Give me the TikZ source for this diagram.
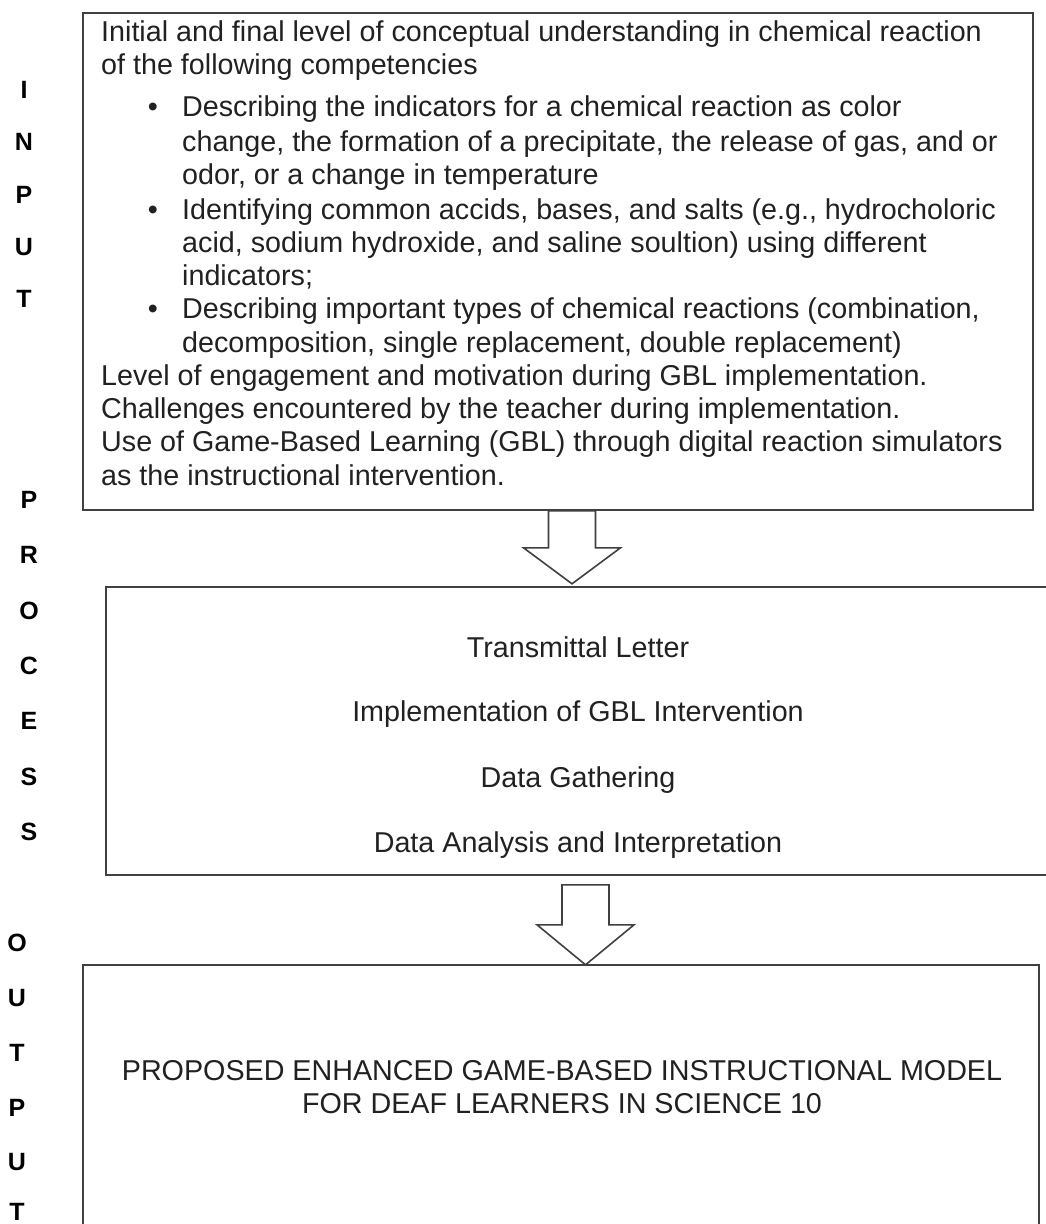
\documentclass[tikz,border=0pt]{standalone}
\usepackage{fontspec}
\setmainfont{Liberation Sans}
\usetikzlibrary{calc}
\definecolor{boxgray}{rgb}{0.25,0.25,0.25}
\definecolor{inkgray}{rgb}{0.13,0.13,0.13}

\tikzset{
  frame/.style={draw=boxgray,line width=1.6pt,inner sep=0pt},
  line/.style={anchor=base west,inner sep=0pt,text=inkgray,font=\fontsize{28.7}{33}\selectfont},
  dot/.style={anchor=base,inner sep=0pt,text=inkgray,font=\fontsize{28.7}{33}\selectfont},
  stage/.style={anchor=base,inner sep=0pt,text=inkgray,font=\fontsize{28.7}{33}\selectfont},
  side/.style={inner sep=0pt,font=\fontsize{25}{30}\selectfont\bfseries},
  hollow/.style={draw=boxgray,line width=1.6pt,fill=white,line join=miter}
}

% hollow block arrow: top centre, shaft length, head length
\newcommand{\blockdown}[3]{%
  \draw[hollow] ($(#1)+(-23.5,0)$) -- ++(0,#2) -- ++(-25,0) -- ++(48.5,#3)
    -- ++(48.5,-#3) -- ++(-25,0) -- ++(0,-#2) -- cycle;}

\begin{document}
\begin{tikzpicture}[x=1pt,y=-1pt]
    \useasboundingbox (0,0) rectangle (1045,1224);

\node[frame,minimum width=950pt,minimum height=497pt] (input) at (558,261.5) {};
\node[frame,minimum width=954pt,minimum height=288pt] (process) at (583,731) {};
\node[frame,minimum width=956pt,minimum height=290pt] (output) at (561,1110) {};

% side labels
\node[side] (i1) at (24,90) {I};
\node[side] (i2) at (24,142) {N};
\node[side] (i3) at (24,195) {P};
\node[side] (i4) at (24,247) {U};
\node[side] (i5) at (24,299) {T};

\node[side] (p1) at (29,500) {P};
\node[side] (p2) at (29,555) {R};
\node[side] (p3) at (29,611) {O};
\node[side] (p4) at (29,666) {C};
\node[side] (p5) at (29,721) {E};
\node[side] (p6) at (29,777) {S};
\node[side] (p7) at (29,832) {S};

\node[side] (o1) at (17,943) {O};
\node[side] (o2) at (17,998) {U};
\node[side] (o3) at (17,1053) {T};
\node[side] (o4) at (17,1108) {P};
\node[side] (o5) at (17,1162) {U};
\node[side] (o6) at (17,1212) {T};

% input box
\node[line] (l1) at (101,41) {Initial and final level of conceptual understanding in chemical reaction};
\node[line] (l2) at (101,74) {of the following competencies};
\node[dot] (b1) at (153,116) {\textbullet};
\node[line] (l3) at (182,116) {Describing the indicators for a chemical reaction as color};
\node[line] (l4) at (182,151) {change, the formation of a precipitate, the release of gas, and or};
\node[line] (l5) at (182,184) {odor, or a change in temperature};
\node[dot] (b2) at (153,219) {\textbullet};
\node[line] (l6) at (182,219) {Identifying common accids, bases, and salts (e.g., hydrocholoric};
\node[line] (l7) at (182,252) {acid, sodium hydroxide, and saline soultion) using different};
\node[line] (l8) at (182,285) {indicators;};
\node[dot] (b3) at (153,318) {\textbullet};
\node[line] (l9) at (182,318) {Describing important types of chemical reactions (combination,};
\node[line] (l10) at (182,352) {decomposition, single replacement, double replacement)};
\node[line] (l11) at (101,385) {Level of engagement and motivation during GBL implementation.};
\node[line] (l12) at (101,418) {Challenges encountered by the teacher during implementation.};
\node[line] (l13) at (101,451) {Use of Game-Based Learning (GBL) through digital reaction simulators};
\node[line] (l14) at (101,485) {as the instructional intervention.};

% process box
\node[stage] (s1) at (578,657) {Transmittal Letter};
\node[stage] (s2) at (578,721) {Implementation of GBL Intervention};
\node[stage] (s3) at (578,787) {Data Gathering};
\node[stage] (s4) at (578,852) {Data Analysis and Interpretation};

% output box
\node[stage] (t1) at (562,1080) {PROPOSED ENHANCED GAME-BASED INSTRUCTIONAL MODEL};
\node[stage] (t2) at (562,1113) {FOR DEAF LEARNERS IN SCIENCE 10};

\coordinate (a1) at ($(input.south)+(14,0)$);
\coordinate (a2) at ($(process.south)+(2.5,9)$);
\blockdown{a1}{37}{36}
\blockdown{a2}{40}{40}

  \end{tikzpicture}
\end{document}
